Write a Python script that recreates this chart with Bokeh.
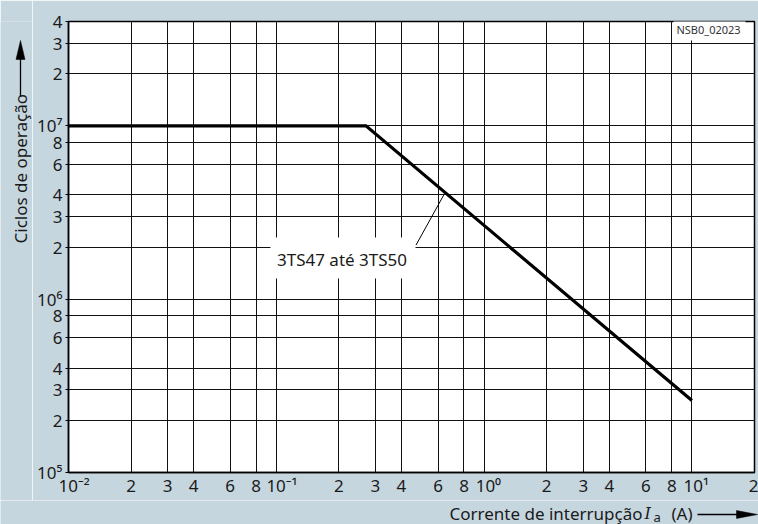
import math
from bokeh.plotting import figure
from bokeh.layouts import column, row
from bokeh.models import FixedTicker, Range1d
from bokeh.core.properties import value
from bokeh.embed import file_html
from bokeh.resources import INLINE

# ---------------- data ----------------
current_A = [0.01, 0.27, 10.0]          # breaking current Ia (A)
cycles = [1.0e7, 1.0e7, 2.6e5]          # operating cycles
series_label = "3TS47 até 3TS50"
leader_x = [0.47, 0.64]
leader_y = [2.05e6, 4.0e6]

x_ticks = [0.01, 0.02, 0.03, 0.04, 0.06, 0.08,
           0.1, 0.2, 0.3, 0.4, 0.6, 0.8,
           1.0, 2.0, 3.0, 4.0, 6.0, 8.0,
           10.0, 20.0]
x_tick_labels = ["\u2002\u200910⁻²", "2", "3", "4", "6", "8",
                 "\u2002\u200910⁻¹", "2", "3", "4", "6", "8",
                 "\u200210⁰", "2", "3", "4", "6", "8",
                 "\u200210¹", "2"]
y_ticks = [1e5, 2e5, 3e5, 4e5, 6e5, 8e5,
           1e6, 2e6, 3e6, 4e6, 6e6, 8e6,
           1e7, 2e7, 3e7, 4e7]
y_tick_labels = ["10⁵", "2", "3", "4", "6", "8",
                 "10⁶", "2", "3", "4", "6", "8",
                 "10⁷", "2", "3", "4"]

x_title = "Corrente de interrupção"
x_symbol = "I"
x_subscript = "a"
x_unit = "(A)"
y_title = "Ciclos de operação"
code_label = "NSB0_02023"

X_MIN, X_MAX = 0.01, 20.0
Y_MIN, Y_MAX = 1e5, 4e7

# ---------------- layout ----------------
BG = "#c6d6df"
INK = "#1a1a1a"
FONT = "Noto Sans"
TOTAL_W, TOTAL_H = 758, 524
LEFT_W = 32          # strip for the y title
MAIN_H = 500         # main figure height; the rest is the x-title strip
L, R, T, B = 68, 754, 21, 472   # frame edges in page pixels


def X(px):
    f = (px - L) / (R - L)
    return 10 ** (math.log10(X_MIN) + f * (math.log10(X_MAX) - math.log10(X_MIN)))


def Y(py):
    f = (B - py) / (B - T)
    return 10 ** (math.log10(Y_MIN) + f * (math.log10(Y_MAX) - math.log10(Y_MIN)))


def strip(w, h):
    f = figure(title=None, frame_width=w, frame_height=h,
               x_range=Range1d(0, w), y_range=Range1d(h, 0),
               output_backend="svg", toolbar_location=None,
               x_axis_location=None, y_axis_location=None,
               min_border=0, min_border_left=0, min_border_right=0,
               min_border_top=0, min_border_bottom=0)
    f.border_fill_color = BG
    f.background_fill_color = BG
    f.outline_line_color = None
    f.grid.grid_line_color = None
    return f


# ---------- main chart ----------
p = figure(title=None, width=TOTAL_W - LEFT_W, height=MAIN_H,
           x_axis_type="log", y_axis_type="log",
           x_range=(X_MIN, X_MAX), y_range=(Y_MIN, Y_MAX),
           output_backend="svg", toolbar_location=None,
           min_border_left=L - LEFT_W, min_border_right=TOTAL_W - R,
           min_border_top=T, min_border_bottom=MAIN_H - B)
p.border_fill_color = BG
p.background_fill_color = "white"
p.outline_line_color = "black"
p.outline_line_width = 1.5

for ax, ticks, labels in ((p.xaxis[0], x_ticks, x_tick_labels), (p.yaxis[0], y_ticks, y_tick_labels)):
    ax.ticker = FixedTicker(ticks=ticks, minor_ticks=[])
    ax.major_label_overrides = {t: s for t, s in zip(ticks, labels)}
    ax.major_label_text_font = FONT
    ax.major_label_text_font_size = "17px"
    ax.major_label_text_color = INK
    ax.axis_line_color = "black"
    ax.axis_line_width = 1.5
    ax.major_tick_in = 0
    ax.minor_tick_line_color = None
p.xaxis.major_tick_out = 0
p.xaxis.major_label_standoff = 1
p.yaxis.major_tick_out = 3
p.yaxis.major_label_standoff = 3

p.xgrid.ticker = FixedTicker(ticks=x_ticks)
p.ygrid.ticker = FixedTicker(ticks=y_ticks)
for g in (p.xgrid[0], p.ygrid[0]):
    g.grid_line_color = "#111111"
    g.grid_line_width = 1
    g.grid_line_alpha = 1

# white boxes behind the in-chart labels (they interrupt the grid)
p.rect(x=[X(342.5)], y=[Y(257.5)], width=145, height=41,
       width_units="screen", height_units="screen",
       fill_color="white", line_color=None)
p.rect(x=[X(709)], y=[Y(30)], width=72, height=20,
       width_units="screen", height_units="screen",
       fill_color="white", line_color=None)

p.line(leader_x, leader_y, line_color="black", line_width=1)
p.text(x=[X(341.5)], y=[Y(259)], text=[series_label],
       text_font=value(FONT), text_font_size="17px", text_color=INK,
       text_align="center", text_baseline="middle")

p.line(current_A, cycles, line_color="black", line_width=3.2, line_join="miter")

p.text(x=[X(708)], y=[Y(29)], text=[code_label],
       text_font=value(FONT), text_font_size="11px", text_color="#333333",
       text_align="center", text_baseline="middle")

# ---------- y title strip ----------
ly = strip(LEFT_W, MAIN_H)
ly.text(x=[20], y=[222], text=[y_title], angle=math.pi / 2,
        text_font=value(FONT), text_font_size="17px", text_color=INK,
        text_align="left", text_baseline="middle")
ly.line([20, 20], [75, 36], line_color="black", line_width=1.3)
ly.patch([20, 15.5, 24.5], [19, 38, 38], fill_color="black", line_color="black", line_width=0.5)

# ---------- x title strip ----------
bx = strip(TOTAL_W, TOTAL_H - MAIN_H)
mid = 13
bx.text(x=[642], y=[mid], text=[x_title],
        text_font=value(FONT), text_font_size="17px", text_color=INK,
        text_align="right", text_baseline="middle")
bx.text(x=[644], y=[mid], text=[x_symbol],
        text_font=value("DejaVu Serif"), text_font_style="italic",
        text_font_size="16px", text_color=INK,
        text_align="left", text_baseline="middle")
bx.text(x=[653], y=[mid + 3], text=[x_subscript],
        text_font=value(FONT), text_font_size="13px", text_color=INK,
        text_align="left", text_baseline="middle")
bx.text(x=[671], y=[mid], text=[x_unit],
        text_font=value(FONT), text_font_size="17px", text_color=INK,
        text_align="left", text_baseline="middle")
bx.line([697, 738], [14, 14], line_color="black", line_width=1.3)
bx.patch([757, 736, 736], [14, 10, 18], fill_color="black", line_color="black", line_width=0.5)

layout = column(row(ly, p, spacing=0), bx, spacing=0)

open("out.html", "w").write(file_html(layout, INLINE))
